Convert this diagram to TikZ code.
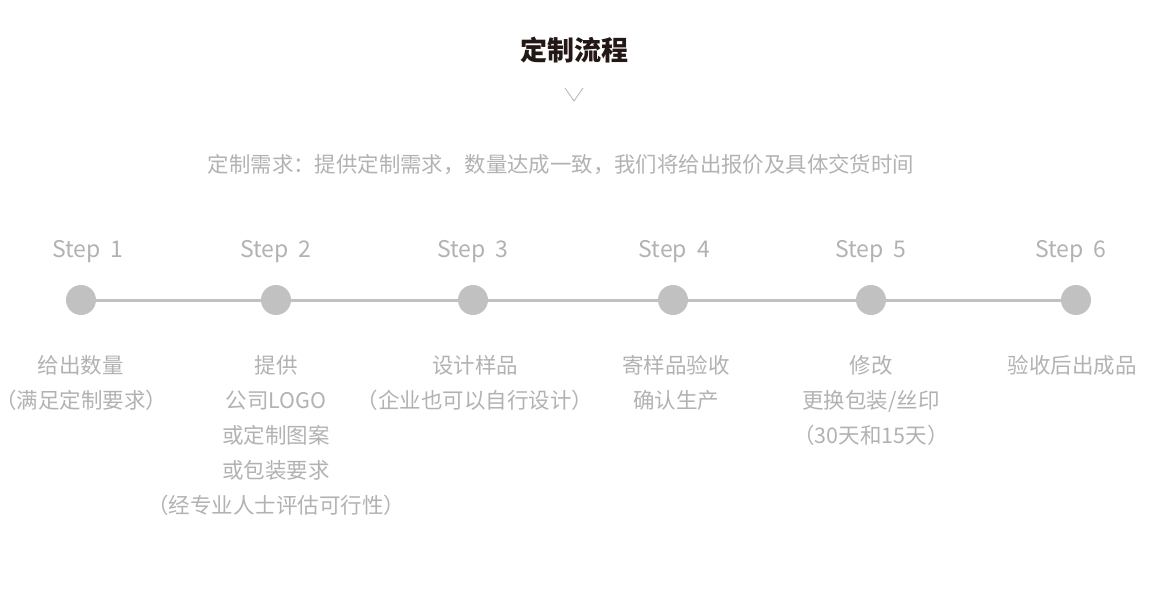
\documentclass[tikz,border=0pt]{standalone}
\usepackage{fontspec}
\setmainfont{Noto Sans CJK SC}
\usepackage{xcolor}
\usetikzlibrary{positioning}
\definecolor{titlegray}{HTML}{231815}
\definecolor{textgray}{HTML}{B2B2B2}
\definecolor{dotgray}{HTML}{C0C1C0}
\tikzset{
  dot/.style={circle, fill=dotgray, minimum size=30pt, inner sep=0pt, outer sep=0pt},
  steplabel/.style={text=textgray, font=\fontsize{23}{28}\selectfont, inner sep=0pt},
  desc/.style={text=textgray, font=\fontsize{21.5}{35}\selectfont, align=center, inner sep=0pt},
  line/.style={draw=dotgray, line width=3pt}
}

\begin{document}
\begin{tikzpicture}[x=1pt, y=-1pt, node distance=22pt and 0pt]
  \useasboundingbox (0,0) rectangle (1149,591);
  \node[font=\bfseries\fontsize{27}{30}\selectfont, text=titlegray] (title) at (574,50) {定制流程};
  \coordinate (chevl) at (565,88);
  \coordinate (chevr) at (583,88);
  \coordinate (chevtip) at (574,101);
  \draw[textgray, line width=0.8pt] (chevl) -- (chevtip) -- (chevr);
  \node[text=textgray, font=\fontsize{21.4}{26}\selectfont] (intro) at (561,165) {定制需求：提供定制需求，数量达成一致，我们将给出报价及具体交货时间};
  \node[dot] (dot1) at (81,300) {};
  \node[dot] (dot2) at (276,300) {};
  \node[dot] (dot3) at (473,300) {};
  \node[dot] (dot4) at (673,300) {};
  \node[dot] (dot5) at (871,300) {};
  \node[dot] (dot6) at (1076,300) {};
  \draw[line] (dot1) -- (dot2);
  \draw[line] (dot2) -- (dot3);
  \draw[line] (dot3) -- (dot4);
  \draw[line] (dot4) -- (dot5);
  \draw[line] (dot5) -- (dot6);
  \node[steplabel, above=of dot1, xshift=7pt] (step1) {Step\hspace{0.45em}1};
  \node[steplabel, above=of dot2] (step2) {Step\hspace{0.45em}2};
  \node[steplabel, above=of dot3] (step3) {Step\hspace{0.45em}3};
  \node[steplabel, above=of dot4, xshift=1.5pt] (step4) {Step\hspace{0.45em}4};
  \node[steplabel, above=of dot5] (step5) {Step\hspace{0.45em}5};
  \node[steplabel, above=of dot6, xshift=-5pt] (step6) {Step\hspace{0.45em}6};
  \node[desc, below=40pt of dot1] (text1) {给出数量\\（满足定制要求）};
  \node[desc, below=40pt of dot2] (text2) {提供\\公司LOGO\\或定制图案\\或包装要求\\（经专业人士评估可行性）};
  \node[desc, below=40pt of dot3, xshift=2pt] (text3) {设计样品\\（企业也可以自行设计）};
  \node[desc, below=40pt of dot4, xshift=3pt] (text4) {寄样品验收\\确认生产};
  \node[desc, below=40pt of dot5] (text5) {修改\\更换包装/丝印\\（30天和15天）};
  \node[desc, below=40pt of dot6, xshift=-4pt] (text6) {验收后出成品};
\end{tikzpicture}
\end{document}
